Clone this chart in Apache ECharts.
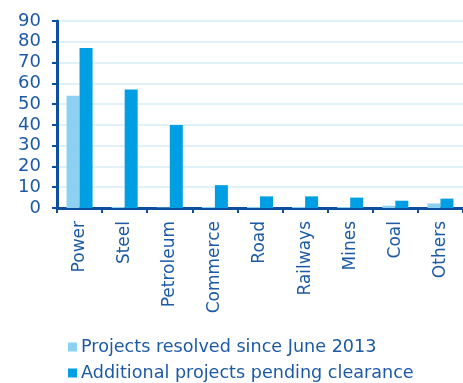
<!DOCTYPE html>
<html><head><meta charset="utf-8">
<script src="https://cdn.jsdelivr.net/npm/echarts@6/dist/echarts.min.js"></script>
<style>html,body{margin:0;padding:0;background:#fff}#c{width:463px;height:383px}</style>
</head><body><div id="c"></div>
<script>
const categories = ["Power","Steel","Petroleum","Commerce","Road","Railways","Mines","Coal","Others"];
const resolved = [54, 0.5, 0.2, 0.5, 0.5, 0.5, 0.5, 1.1, 2.2];
const pending = [77, 57, 40, 11, 5.6, 5.6, 5, 3.5, 4.5];
const yTicks = [0, 10, 20, 30, 40, 50, 60, 70, 80, 90];
const seriesNames = ["Projects resolved since June 2013", "Additional projects pending clearance"];

const axisColor = "#0d4e9f";
const textColor = "#1d5aa5";
const chart = echarts.init(document.getElementById('c'));
chart.setOption({
  animation: false,
  textStyle: { fontFamily: "DejaVu Sans" },
  grid: { left: 57, top: 21, bottom: 175, width: 417, containLabel: false },
  legend: {
    orient: 'vertical', left: 63, top: 333, height: 80, itemWidth: 9, itemHeight: 9, itemGap: 8,
    icon: 'rect',
    textStyle: { color: textColor, fontSize: 17.6, fontFamily: "DejaVu Sans", padding: [0, 0, 0, -1] },
    data: seriesNames
  },
  xAxis: {
    type: 'category', data: categories,
    axisLine: { lineStyle: { color: axisColor, width: 3 } },
    axisTick: { show: true, length: 5, lineStyle: { color: axisColor, width: 2 } },
    axisLabel: { rotate: 90, margin: 13, color: textColor, fontSize: 17, fontFamily: "DejaVu Sans" }
  },
  yAxis: {
    type: 'value', min: yTicks[0], max: yTicks[yTicks.length-1], interval: 10,
    axisLine: { show: true, lineStyle: { color: axisColor, width: 3 } },
    axisTick: { show: true, length: 5, lineStyle: { color: axisColor, width: 2 } },
    axisLabel: { color: textColor, fontSize: 18, margin: 16, fontFamily: "DejaVu Sans" },
    splitLine: { lineStyle: { color: "#d6edf9", width: 1.5 } }
  },
  series: [
    { name: seriesNames[0], type: 'bar', data: resolved, barWidth: 13, barGap: '0%',
      itemStyle: { color: "#8dd1f2" } },
    { name: seriesNames[1], type: 'bar', data: pending, barWidth: 13,
      itemStyle: { color: "#009fe3" } }
  ]
});
</script></body></html>
